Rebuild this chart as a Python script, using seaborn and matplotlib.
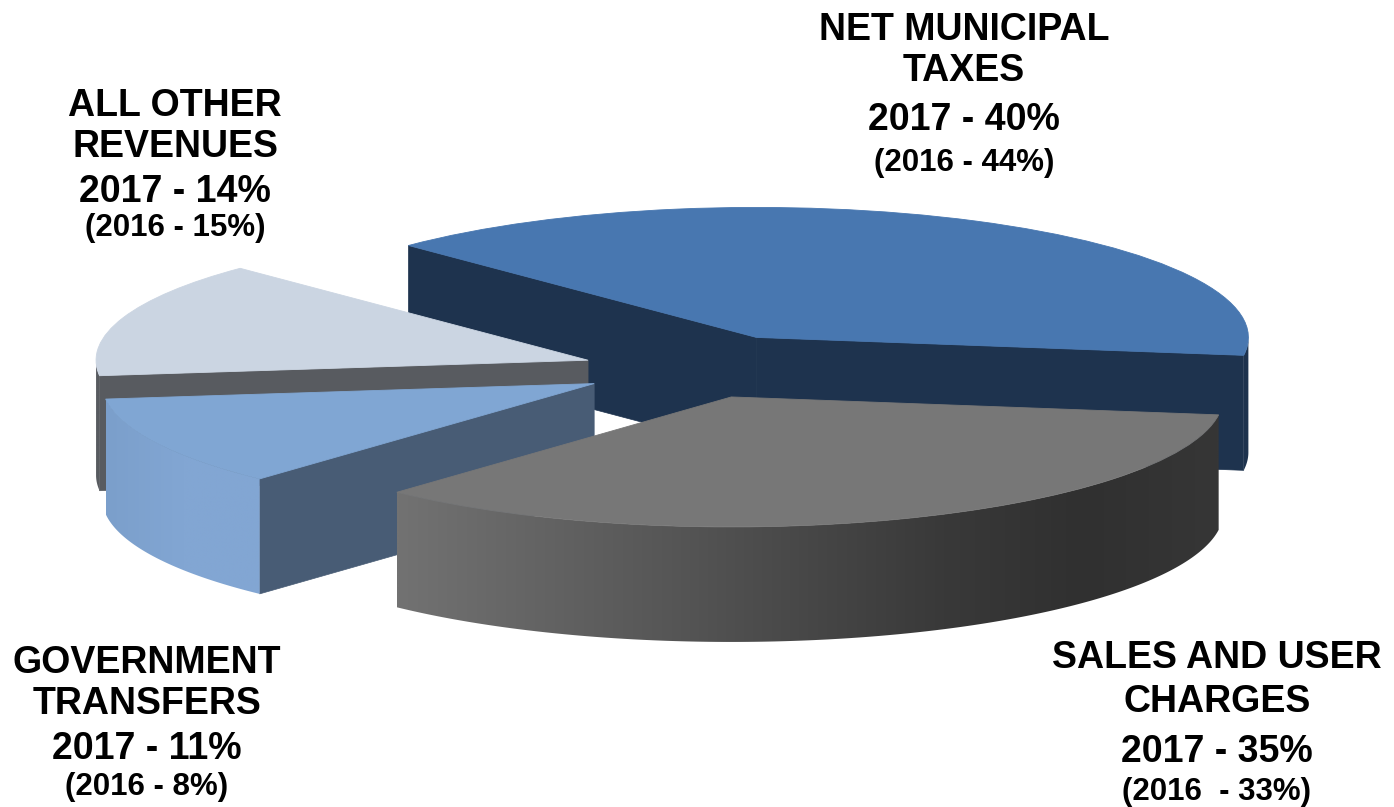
import numpy as np
import matplotlib
matplotlib.use('Agg')
import matplotlib.pyplot as plt
import seaborn as sns
from matplotlib.patches import Polygon

# --- data ---
categories = ['NET MUNICIPAL\nTAXES', 'SALES AND USER\nCHARGES', 'GOVERNMENT\nTRANSFERS', 'ALL OTHER\nREVENUES']
# slice sizes as drawn in the picture, the printed labels round them
slice_share = [39.7, 34.7, 11.2, 14.4]
label_2017 = ['2017 - 40%', '2017 - 35%', '2017 - 11%', '2017 - 14%']
label_2016 = ['(2016 - 44%)', '(2016  - 33%)', '(2016 - 8%)', '(2016 - 15%)']

# --- styling ---
explode = [0.28, 0.22, 0.23, 0.23]
top_colors = ['#4877b0', '#777777', '#80a6d3', '#cbd5e2']
side_colors = ['#1e334e', '#5a5a5a', '#485c75', '#585b60']
rim_stops = [
    ['#1e334e', '#1e334e'],
    ['#727272', '#646464', '#565656', '#474747', '#393939', '#303030', '#363636'],
    ['#7b9fcb', '#82a6d3', '#82a6d3'],
    ['#585b60', '#585b60'],
]
draw_rank = [1, 4, 3, 2]
start_angle = 135

# pixel layout of the picture
W, H = 1394, 807
CX, CY = 695, 370
RX, RY = 492, 130
DEPTH = 115 / RY

label_x = [964, 1217, 147, 175]
label_y = [[40, 81, 130, 171], [668, 712, 762, 800], [673, 714, 759, 795], [116, 157, 202, 236]]

sns.set_theme(style='white')
plt.rcParams['font.family'] = ['Liberation Sans', 'DejaVu Sans']

fig = plt.figure(figsize=(W / 100, H / 100), dpi=100, facecolor='white')
ax = fig.add_axes([0, 0, 1, 1])

wedges, _ = ax.pie(slice_share, explode=explode, startangle=start_angle, counterclock=False,
                   colors=sns.color_palette(top_colors), radius=1, wedgeprops={'linewidth': 0})

for i, w in enumerate(wedges):
    z = draw_rank[i] * 10
    w.set_zorder(z + 2)
    w.set_edgecolor(top_colors[i])
    w.set_linewidth(0.6)
    a, b = w.theta1, w.theta2
    cx, cy = w.center
    ra, rb = np.radians(a), np.radians(b)

    # flat side faces, only those turned towards the viewer
    for ang, normal in [(ra, ra - np.pi / 2), (rb, rb + np.pi / 2)]:
        if np.sin(normal) < 0:
            px, py = cx + np.cos(ang), cy + np.sin(ang)
            ax.fill([cx, px, px, cx], [cy, py, py - DEPTH, cy - DEPTH],
                    facecolor=side_colors[i], edgecolor=side_colors[i], lw=0.5, zorder=z)

    # outer rim, shaded left to right
    t = np.linspace(ra, rb, 400)
    t = t[np.sin(t) < 0.005]
    if len(t) < 2:
        continue
    x = cx + np.cos(t)
    y = cy + np.sin(t)
    outline = np.vstack([np.column_stack([x, y]), np.column_stack([x[::-1], y[::-1] - DEPTH])])
    rim = Polygon(outline, closed=True, facecolor='none', edgecolor='none', transform=ax.transData)
    ax.add_patch(rim)
    pal = np.array(sns.blend_palette(rim_stops[i], 256))[np.newaxis, :, :]
    im = ax.imshow(pal, extent=[x.min(), x.max(), y.min() - DEPTH, y.max()], aspect='auto',
                   interpolation='bilinear', zorder=z + 1)
    im.set_clip_path(rim)

ax.set_aspect('auto')
ax.set_xlim(-CX / RX, (W - CX) / RX)
ax.set_ylim((CY - H) / RY, CY / RY)
ax.axis('off')

for i, name in enumerate(categories):
    lines = name.split('\n') + [label_2017[i]]
    for txt, py in zip(lines, label_y[i]):
        fig.text(label_x[i] / W, 1 - py / H, txt, ha='center', va='baseline',
                 fontsize=27, fontweight='bold', color='black')
    fig.text(label_x[i] / W, 1 - label_y[i][3] / H, label_2016[i], ha='center', va='baseline',
             fontsize=22.5, fontweight='bold', color='black')

fig.savefig('out.png', dpi=100)
